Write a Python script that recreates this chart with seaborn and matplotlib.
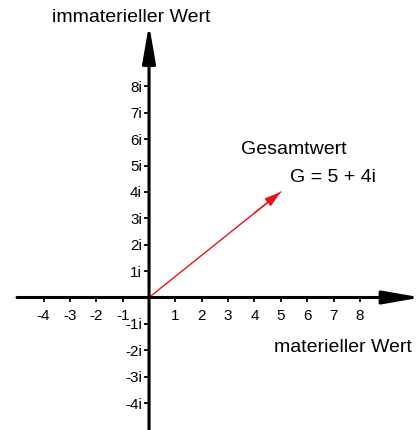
import matplotlib
matplotlib.use("Agg")
import matplotlib.pyplot as plt
import seaborn as sns
import pandas as pd

# ---- data ----
x_ticks = [-4, -3, -2, -1, 1, 2, 3, 4, 5, 6, 7, 8]
x_labels = ["-4", "-3", "-2", "-1", "1", "2", "3", "4", "5", "6", "7", "8"]
y_ticks = [8, 7, 6, 5, 4, 3, 2, 1, -1, -2, -3, -4]
y_labels = ["8i", "7i", "6i", "5i", "4i", "3i", "2i", "1i", "-1i", "-2i", "-3i", "-4i"]
real_part = [0, 5]
imag_part = [0, 4]
x_title = "materieller Wert"
y_title = "immaterieller Wert"
vec_title = "Gesamtwert"
vec_label = "G = 5 + 4i"

sns.set_theme(style="white")
plt.rcParams['font.family'] = ['Liberation Sans', 'DejaVu Sans']

fig = plt.figure(figsize=(4.16, 4.30), dpi=100)
ax = fig.add_axes([0, 0, 1, 1])
ax.set_xlim(-5.655, 10.13)
ax.set_ylim(-5.02, 11.27)

# axes through origin with ticks
for s in ["top", "right"]:
    ax.spines[s].set_visible(False)
ax.spines["bottom"].set_position(("data", 0))
ax.spines["left"].set_position(("data", 0))
ax.spines["bottom"].set_color("none")
ax.spines["left"].set_color("none")
ax.set_xticks(x_ticks, x_labels)
ax.set_yticks(y_ticks, y_labels)
ax.tick_params(axis="x", bottom=True, direction="out", length=3.6, width=1.3,
               pad=4.5, labelsize=11, colors="black")
ax.tick_params(axis="y", left=True, direction="out", length=3.6, width=1.3,
               pad=1.5, labelsize=11, colors="black")

# axis lines with arrow heads
ax.annotate("", xy=(10.32, 0), xytext=(-5.01, 0), annotation_clip=False,
            arrowprops=dict(arrowstyle="-|>,head_length=2.3,head_width=0.4",
                            lw=2.2, color="black", shrinkA=0, shrinkB=0,
                            mutation_scale=10))
ax.annotate("", xy=(0, 10.34), xytext=(0, -5.1), annotation_clip=False,
            arrowprops=dict(arrowstyle="-|>,head_length=2.3,head_width=0.4",
                            lw=2.2, color="black", shrinkA=0, shrinkB=0,
                            mutation_scale=10))

# vector G
df = pd.DataFrame({"re": real_part, "im": imag_part})
sns.lineplot(data=df, x="re", y="im", sort=False, color="#e8141b", lw=1.0, ax=ax)
ax.annotate("", xy=(real_part[1], imag_part[1]), xytext=(real_part[1] * 0.8, imag_part[1] * 0.8),
            arrowprops=dict(arrowstyle="-|>,head_length=1.0,head_width=0.3",
                            lw=1.0, color="#e8141b", shrinkA=0, shrinkB=0,
                            mutation_scale=10))
ax.set_xlabel("")
ax.set_ylabel("")

# texts
ax.text(-3.68, 10.59, y_title, fontsize=14, ha="left", va="center", color="black")
ax.text(4.74, -1.91, x_title, fontsize=14, ha="left", va="center", color="black")
ax.text(3.49, 5.59, vec_title, fontsize=14, ha="left", va="center", color="black")
ax.text(5.35, 4.56, vec_label, fontsize=14, ha="left", va="center", color="black")

fig.savefig("out.png", dpi=100)
